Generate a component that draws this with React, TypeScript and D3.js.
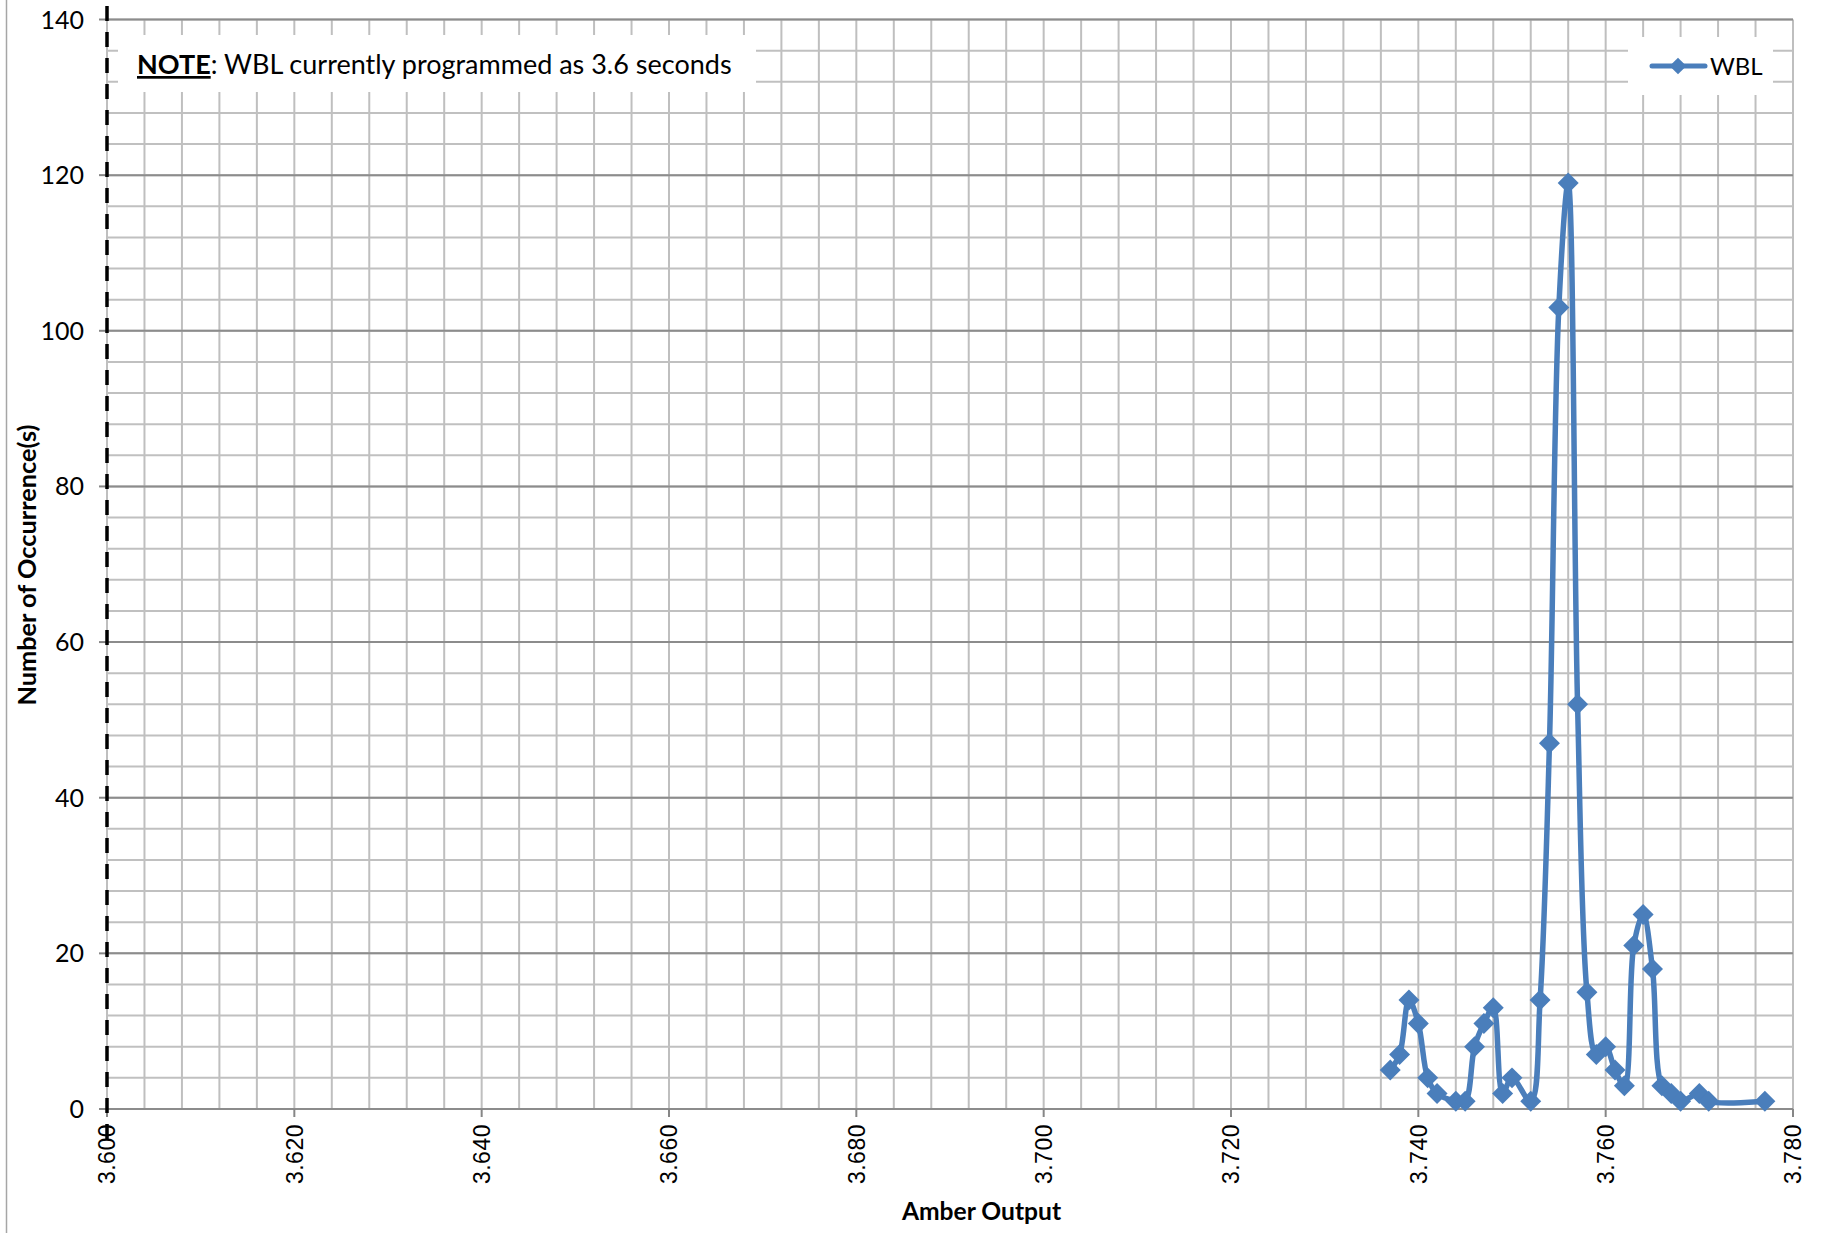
import React from "react";
import * as d3 from "d3";

// ---- data ----
const amberOutput = [
  3.737, 3.738, 3.739, 3.74, 3.741, 3.742, 3.744, 3.745, 3.746, 3.747, 3.748,
  3.749, 3.75, 3.752, 3.753, 3.754, 3.755, 3.756, 3.757, 3.758, 3.759, 3.76,
  3.761, 3.762, 3.763, 3.764, 3.765, 3.766, 3.767, 3.768, 3.77, 3.771, 3.777,
];
const occurrences = [
  5, 7, 14, 11, 4, 2, 1, 1, 8, 11, 13, 2, 4, 1, 14, 47, 103, 119, 52, 15, 7, 8,
  5, 3, 21, 25, 18, 3, 2, 1, 2, 1, 1,
];
const xTickLabels = ["3.600", "3.620", "3.640", "3.660", "3.680", "3.700", "3.720", "3.740", "3.760", "3.780"];
const yTickLabels = ["0", "20", "40", "60", "80", "100", "120", "140"];
const seriesName = "WBL";
const xTitle = "Amber Output";
const yTitle = "Number of Occurrence(s)";
const noteBold = "NOTE";
const noteRest = ": WBL currently programmed as 3.6 seconds";

const W = 1826;
const H = 1233;
const BLUE = "#4a7ebb";
const CAL = "Lato, 'Noto Sans', sans-serif";

export default function App() {
  const x = d3.scaleLinear().domain([3.6, 3.78]).range([107, 1793]);
  const y = d3.scaleLinear().domain([0, 140]).range([1109, 19.5]);

  const xMinor = d3.range(0, 46).map((i) => 3.6 + i * 0.004);
  const yMinor = d3.range(0, 36).map((i) => i * 4);
  const xMajor = xTickLabels.map(Number);
  const yMajor = yTickLabels.map(Number);

  const pts: [number, number][] = amberOutput.map((v, i) => [v, occurrences[i]]);
  const line = d3
    .line<[number, number]>()
    .x((d) => x(d[0]))
    .y((d) => y(d[1]))
    .curve(d3.curveCatmullRom.alpha(0.5));
  const diamond = d3.symbol().type(d3.symbolSquare).size(220)();
  const legendDiamond = d3.symbol().type(d3.symbolSquare).size(140)();

  const [x0, x1] = x.range();
  const [y0, y1] = y.range();

  return (
    <svg
      width={W}
      height={H}
      style={{ position: "absolute", left: 0, top: 0, background: "#fff" }}
    >
      <rect x={0} y={0} width={W} height={H} fill="#fff" />
      <line x1={6.5} x2={6.5} y1={0} y2={H} stroke="#a6a6a6" strokeWidth={1.5} />

      {/* minor vertical gridlines */}
      {xMinor.map((v, i) => (
        <line key={"vx" + i} x1={x(v)} x2={x(v)} y1={y1} y2={y0} stroke="#bfbfbf" strokeWidth={2} />
      ))}
      {/* minor horizontal gridlines */}
      {yMinor.map((v, i) => (
        <line key={"hy" + i} x1={x0} x2={x1} y1={y(v)} y2={y(v)} stroke="#c0c0c0" strokeWidth={2} />
      ))}
      {/* major horizontal gridlines */}
      {yMajor.map((v, i) => (
        <line key={"My" + i} x1={x0} x2={x1} y1={y(v)} y2={y(v)} stroke="#8c8c8c" strokeWidth={2} />
      ))}

      {/* x axis ticks */}
      {xMajor.map((v, i) => (
        <line key={"tx" + i} x1={x(v)} x2={x(v)} y1={y0} y2={y0 + 8} stroke="#868686" strokeWidth={2} />
      ))}
      {/* y axis ticks */}
      {yMajor.map((v, i) => (
        <line key={"ty" + i} x1={x0 - 8} x2={x0} y1={y(v)} y2={y(v)} stroke="#868686" strokeWidth={2} />
      ))}

      {/* series */}
      <path d={line(pts) || ""} fill="none" stroke={BLUE} strokeWidth={5.5} strokeLinejoin="round" />
      {pts.map((p, i) => (
        <path
          key={"m" + i}
          d={diamond || ""}
          transform={`translate(${x(p[0])},${y(p[1])}) rotate(45)`}
          fill={BLUE}
        />
      ))}

      {/* note box */}
      <rect x={118} y={35} width={638} height={57} fill="#fff" />
      <text x={137} y={74} fontFamily={CAL} fontSize={27} fill="#000">
        <tspan fontWeight="bold" textDecoration="underline">{noteBold}</tspan>
        <tspan>{noteRest}</tspan>
      </text>

      {/* legend */}
      <rect x={1628} y={37} width={145} height={58} fill="#fff" />
      <line x1={1652} x2={1705} y1={66} y2={66} stroke={BLUE} strokeWidth={5} strokeLinecap="round" />
      <path d={legendDiamond || ""} transform={`translate(1678,66) rotate(45)`} fill={BLUE} />
      <text x={1710} y={75} fontFamily={CAL} fontSize={24} fill="#000">
        {seriesName}
      </text>

      {/* dashed vertical axis */}
      <line x1={107} x2={107} y1={6} y2={1140} stroke="#000" strokeWidth={3.5} strokeDasharray="15 11" />

      {/* y tick labels */}
      {yMajor.map((v, i) => (
        <text
          key={"ly" + i}
          x={84}
          y={y(v)}
          dy="0.36em"
          textAnchor="end"
          fontFamily={CAL}
          fontSize={25}
          fill="#000"
        >
          {yTickLabels[i]}
        </text>
      ))}
      {/* x tick labels */}
      {xMajor.map((v, i) => (
        <text
          key={"lx" + i}
          transform={`translate(${x(v)},1124) rotate(-90)`}
          dy="0.36em"
          textAnchor="end"
          fontFamily="'Liberation Sans', Arial, sans-serif"
          fontSize={23}
          letterSpacing={0.5}
          fill="#000"
        >
          {xTickLabels[i]}
        </text>
      ))}

      {/* axis titles */}
      <text x={981.5} y={1220} textAnchor="middle" fontFamily={CAL} fontWeight="bold" fontSize={24.6} fill="#000">
        {xTitle}
      </text>
      <text
        transform="translate(36,565) rotate(-90)"
        textAnchor="middle"
        fontFamily={CAL}
        fontWeight="bold"
        fontSize={25.3}
        fill="#000"
      >
        {yTitle}
      </text>
    </svg>
  );
}
